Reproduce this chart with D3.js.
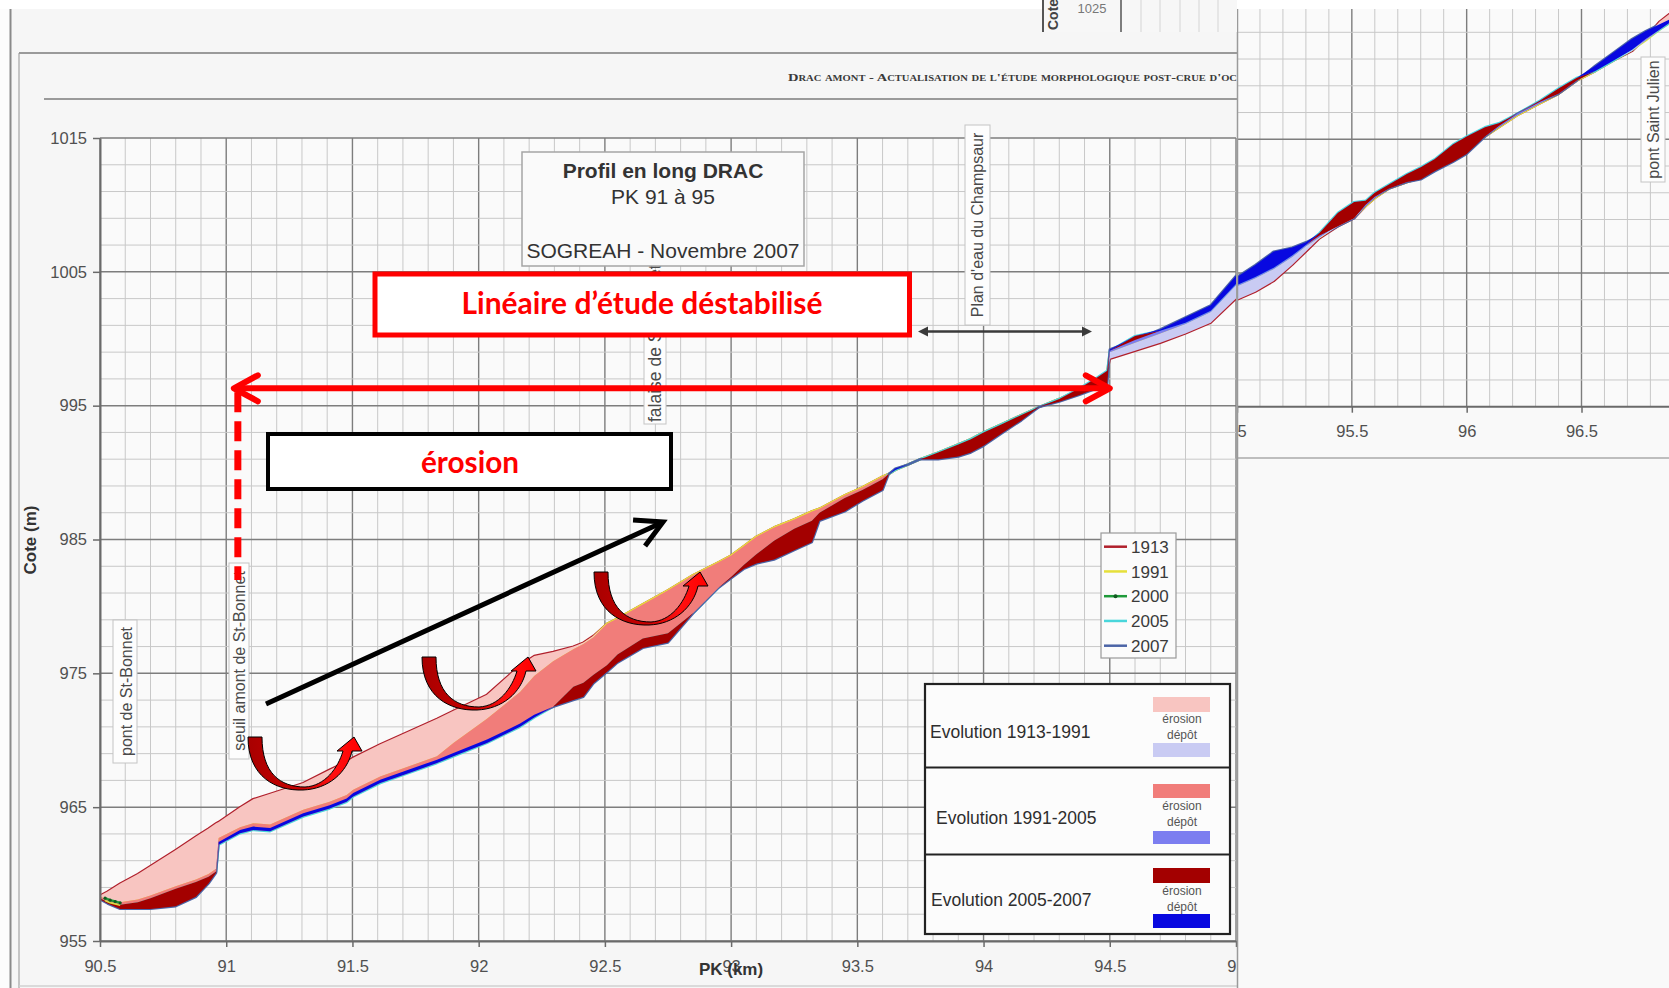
<!DOCTYPE html>
<html><head><meta charset="utf-8">
<script src="https://cdn.jsdelivr.net/npm/d3@7"></script>
<style>body{margin:0;background:#fff;} svg{display:block;}</style>
</head><body>
<svg id="c" width="1669" height="988"></svg>
<script>
// ---------------- DATA ----------------
const pk = [90.50,90.53,90.58,90.65,90.70,90.80,90.88,90.93,90.96,90.97,91.055,91.107,91.174,91.305,91.41,91.477,91.503,91.61,91.716,91.835,91.90,92.033,92.164,92.22,92.295,92.375,92.415,92.455,92.508,92.55,92.65,92.75,92.85,92.95,93.00,93.05,93.10,93.17,93.25,93.32,93.35,93.45,93.52,93.60,93.625,93.65,93.70,93.75,93.82,93.90,93.95,94.00,94.07,94.15,94.22,94.30,94.38,94.45,94.49,94.50,94.60,94.70,94.80,94.90,95.00,95.08,95.16,95.24,95.30,95.36,95.44,95.51,95.56,95.60,95.66,95.74,95.80,95.86,95.94,96.00,96.08,96.14,96.22,96.32,96.40,96.48,96.56,96.64,96.72,96.78,96.84,96.90];
const z1913 = [958.4,958.7,959.3,960.0,960.6,961.8,962.8,963.4,963.8,963.9,965.0,965.6,966.0,966.8,967.8,968.4,968.7,969.7,970.6,971.6,972.2,973.4,975.6,976.3,976.6,977.0,977.3,977.8,978.7,979.1,980.15,981.2,982.35,983.3,983.8,984.5,985.2,985.9,986.5,987.1,987.3,988.3,988.9,989.7,989.9,990.2,990.6,991.0,991.5,992.1,992.5,993.0,993.6,994.3,994.9,995.5,996.2,997.0,997.5,998.5,999.1,999.7,1000.4,1001.2,1003.0,1003.6,1004.4,1005.6,1006.6,1007.6,1008.5,1009.1,1010.0,1010.6,1011.3,1011.8,1012.1,1012.8,1013.6,1014.2,1015.2,1015.9,1016.8,1017.7,1018.4,1019.4,1020.1,1020.9,1021.6,1022.6,1023.8,1024.6];
const z1991 = [958.3,958.1,957.9,958.1,958.4,959.1,959.6,960.0,960.4,962.7,963.5,963.8,963.7,964.8,965.4,965.9,966.3,967.3,968.0,968.8,969.8,971.6,973.6,974.8,975.9,976.8,977.2,977.7,978.7,979.1,980.15,981.2,982.35,983.3,983.8,984.5,985.2,985.9,986.5,987.1,987.3,988.3,988.9,989.7,989.9,990.2,990.6,991.0,991.5,992.1,992.5,993.0,993.6,994.3,994.9,995.5,996.2,997.0,997.5,999.0,999.7,1000.4,1001.1,1002.0,1004.0,1004.6,1005.3,1006.2,1007.0,1007.7,1008.6,1009.2,1010.0,1010.6,1011.3,1011.8,1012.1,1012.8,1013.6,1014.2,1015.2,1015.9,1016.8,1017.7,1018.4,1019.4,1020.1,1020.9,1021.7,1022.4,1023.2,1023.9];
const z2005 = [958.2,957.9,957.7,957.9,958.2,958.9,959.4,959.8,960.2,962.2,963.05,963.3,963.2,964.3,964.9,965.4,965.8,966.8,967.5,968.3,968.8,969.8,971.0,971.7,972.5,974.0,974.3,974.9,975.6,976.4,977.6,978.0,979.5,981.4,982.2,983.1,983.9,984.9,985.8,986.4,987.0,988.1,988.7,989.5,989.9,990.2,990.6,991.0,991.5,992.1,992.5,993.0,993.6,994.3,994.9,995.5,996.3,997.1,997.6,999.1,1000.2,1000.6,1001.2,1002.1,1004.1,1004.7,1005.4,1006.3,1007.1,1008.0,1009.5,1010.3,1010.4,1011.0,1011.6,1012.4,1012.9,1013.5,1014.6,1015.2,1015.9,1016.2,1016.9,1017.9,1018.8,1019.6,1020.1,1020.9,1021.7,1022.5,1023.2,1023.9];
const z2007 = [958.1,957.8,957.4,957.4,957.4,957.6,958.3,959.3,960.1,962.4,963.3,963.55,963.45,964.55,965.15,965.65,966.05,967.05,967.75,968.55,969.05,970.05,971.25,971.9,972.5,973.0,973.25,974.25,975.1,975.8,976.9,977.3,979.5,981.4,982.1,982.8,983.2,983.5,984.2,984.8,986.4,987.1,987.9,988.7,989.9,990.3,990.6,991.0,991.0,991.2,991.5,992.0,992.9,993.9,994.9,995.3,995.8,996.3,996.6,999.2,999.9,1000.7,1001.6,1002.5,1004.7,1005.6,1006.6,1006.9,1007.3,1007.8,1008.5,1009.1,1010.1,1010.7,1011.3,1011.8,1012.0,1012.6,1013.3,1013.9,1015.2,1016.0,1016.9,1017.8,1018.4,1019.4,1020.5,1021.5,1022.5,1023.1,1023.6,1024.1];
const pk2000 = [90.52,90.54,90.56,90.58];
const z2000 = [958.2,958.05,957.95,957.85];

const years = ["1913","1991","2000","2005","2007"];
const yearColors = ["#b0202c","#e6e03a","#1f9a3a","#49d6db","#4b64a6"];
const xTicksMain = [90.5,91,91.5,92,92.5,93,93.5,94,94.5,95];
const xTickLabelsMain = ["90.5","91","91.5","92","92.5","93","93.5","94","94.5","95"];
const yTicks = [955,965,975,985,995,1005,1015];
const yTickLabels = ["955","965","975","985","995","1005","1015"];
const xTicksInset = [95,95.5,96,96.5];
const xTickLabelsInset = ["95","95.5","96","96.5"];
const evolutionLabels = ["Evolution 1913-1991","Evolution 1991-2005","Evolution 2005-2007"];
const erosionColors = ["#f8c5c1","#f17d7a","#a30000"];
const depotColors = ["#c9cbf3","#7c7ef0","#0808e0"];

// ---------------- SETUP ----------------
const W = 1669, H = 988;
const FONT = "'Liberation Sans', Arial, sans-serif";
const svg = d3.select("#c");
const defs = svg.append("defs");

const xs = d3.scaleLinear([90.5, 95], [100, 1236]);
const ys = d3.scaleLinear([955, 1015], [941, 138]);
const xi = d3.scaleLinear([95, 96.5], [1237, 1581.5]);
const yi = d3.scaleLinear([995, 1023], [406.7, 32.3]);

defs.append("clipPath").attr("id","mainClip").append("rect")
  .attr("x",100).attr("y",138).attr("width",1136).attr("height",803);
defs.append("clipPath").attr("id","insetClip").append("rect")
  .attr("x",1237).attr("y",9).attr("width",432).attr("height",398);
defs.append("clipPath").attr("id","insetAll").append("rect")
  .attr("x",1237).attr("y",0).attr("width",432).attr("height",988);
const grad = defs.append("linearGradient").attr("id","ug").attr("x1",0).attr("x2",1).attr("y1",0).attr("y2",0);
grad.append("stop").attr("offset","0%").attr("stop-color","#a80000");
grad.append("stop").attr("offset","45%").attr("stop-color","#c80000");
grad.append("stop").attr("offset","75%").attr("stop-color","#ff1010");
grad.append("stop").attr("offset","100%").attr("stop-color","#ff0000");

// background
svg.append("rect").attr("width",W).attr("height",H).attr("fill","#f6f6f6");
svg.append("rect").attr("width",W).attr("height",9).attr("fill","#ffffff");
svg.append("rect").attr("y",9).attr("width",10).attr("height",H-9).attr("fill","#fcfcfc");
const frame = svg.append("g");
function ln(g,x1,y1,x2,y2,c,w){return g.append("line").attr("x1",x1).attr("y1",y1).attr("x2",x2).attr("y2",y2).attr("stroke",c).attr("stroke-width",w);}
ln(frame,10.5,9,10.5,H,"#8a8a8a",2);
ln(frame,19,53,19,H,"#b5b5b5",1.5);
ln(frame,19,53,1237,53,"#9a9a9a",2);
ln(frame,44,99,1237,99,"#9a9a9a",2);
ln(frame,19,986,1237,986,"#d0d0d0",1.5);

svg.append("text").attr("x",788).attr("y",81)
  .attr("font-family","'Liberation Serif', serif").attr("font-size",11).attr("font-weight","bold")
  .attr("font-variant","small-caps").attr("fill","#3a3a3a")
  .attr("textLength",449).attr("lengthAdjust","spacingAndGlyphs")
  .text("Drac amont - Actualisation de l'étude morphologique post-crue d'oc");

// ---------------- GRID ----------------
function drawGrid(g, xsc, ysc, pkFrom, nV, zFrom, zTo, y0, y1, x0, x1){
  for(let i=0;i<=nV;i++){
    const v = pkFrom + i/10;
    const major = i%5===0;
    ln(g, xsc(v), y0, xsc(v), y1, major?"#7d7d7d":"#c8c8c8", major?1.4:1);
  }
  for(let z=zFrom; z<=zTo; z+=2){
    const major = (z-955)%10===0;
    ln(g, x0, ysc(z), x1, ysc(z), major?"#7d7d7d":"#c8c8c8", major?1.5:1);
  }
}
svg.append("rect").attr("x",100).attr("y",138).attr("width",1136).attr("height",803).attr("fill","#fafafa");
drawGrid(svg.append("g"), xs, ys, 90.5, 45, 955, 1015, 138, 941, 100, 1236);

// ---------------- PROFILE ----------------
const idx = d3.range(pk.length);
const fillSpec = [[z1913,z1991],[z1991,z2005],[z2005,z2007]];
function drawProfile(g, xsc, ysc){
  // year lines first (only their outer edges stay visible), then erosion/deposit fills
  const series = [z1913, z1991, z2005, z2007];
  const sColors = [yearColors[0], yearColors[1], yearColors[3], yearColors[4]];
  series.forEach((s,k)=>{
    g.append("path").attr("fill","none").attr("stroke",sColors[k]).attr("stroke-width",2.4)
      .attr("stroke-linejoin","round")
      .attr("d", d3.line().x(i=>xsc(pk[i])).y(i=>ysc(s[i]))(idx));
  });
  fillSpec.forEach((p,k)=>{
    const [a,b] = p;
    g.append("path").attr("fill",erosionColors[k])
      .attr("d", d3.area().x(i=>xsc(pk[i])).y0(i=>ysc(a[i])).y1(i=>ysc(Math.min(a[i],b[i])))(idx));
    g.append("path").attr("fill",depotColors[k])
      .attr("d", d3.area().x(i=>xsc(pk[i])).y0(i=>ysc(a[i])).y1(i=>ysc(Math.max(a[i],b[i])))(idx));
  });
  const id2 = d3.range(pk2000.length);
  g.append("path").attr("fill","none").attr("stroke",yearColors[2]).attr("stroke-width",2.5)
    .attr("d", d3.line().x(i=>xsc(pk2000[i])).y(i=>ysc(z2000[i]))(id2));
  g.append("path").attr("fill","none").attr("stroke","#d8e040").attr("stroke-width",1.5)
    .attr("d", d3.line().x(i=>xsc(pk2000[i])).y(i=>ysc(z2000[i])+2.5)(id2));
  g.selectAll(null).data(id2).enter().append("circle")
    .attr("cx",i=>xsc(pk2000[i])).attr("cy",i=>ysc(z2000[i])).attr("r",1.6).attr("fill","#105a20");
}
drawProfile(svg.append("g").attr("clip-path","url(#mainClip)"), xs, ys);

// ---------------- AXES ----------------
const gx = svg.append("g").attr("transform",`translate(0,${ys(955)})`)
  .call(d3.axisBottom(xs).tickValues(xTicksMain).tickFormat((d,i)=>xTickLabelsMain[i]).tickSize(6).tickSizeOuter(0).tickPadding(13));
const gy = svg.append("g").attr("transform",`translate(${xs(90.5)},0)`)
  .call(d3.axisLeft(ys).tickValues(yTicks).tickFormat((d,i)=>yTickLabels[i]).tickSize(7).tickSizeOuter(0).tickPadding(6));
[gx,gy].forEach(g=>{
  g.attr("font-family",FONT).attr("font-size",16.5);
  g.select(".domain").attr("stroke","#6a6a6a").attr("stroke-width",2);
  g.selectAll(".tick line").attr("stroke","#6a6a6a").attr("stroke-width",1.5);
  g.selectAll(".tick text").attr("fill","#505050");
});
svg.append("text").attr("x",731).attr("y",975).attr("text-anchor","middle")
  .attr("font-family",FONT).attr("font-size",17).attr("font-weight","bold").attr("fill","#333").text("PK (km)");
svg.append("text").attr("transform","translate(36,540) rotate(-90)").attr("text-anchor","middle")
  .attr("font-family",FONT).attr("font-size",17).attr("font-weight","bold").attr("fill","#333").text("Cote (m)");

// ---------------- VERTICAL LABELS ----------------
function vLabel(text, bx, by, bw, bh, tx, ty, anchor, fs){
  const g = svg.append("g");
  g.append("rect").attr("x",bx).attr("y",by).attr("width",bw).attr("height",bh)
    .attr("fill","#fdfdfd").attr("stroke","#c4c4c4").attr("stroke-width",1);
  g.append("text").attr("transform",`translate(${tx},${ty}) rotate(-90)`).attr("text-anchor",anchor)
    .attr("dy","0.35em").attr("font-family",FONT).attr("font-size",fs||16).attr("fill","#4a4a4a").text(text);
}
vLabel("pont de St-Bonnet", 113,620,24,143, 126,691.5,"middle");
vLabel("seuil amont de St-Bonnet", 229,563,20,196, 239,661,"middle");
vLabel("falaise de St-Bonnet", 644,300,22,124, 655,422,"start",17.5);
vLabel("Plan d'eau du Champsaur", 965,125,25,200, 977.5,225,"middle");

// small black double arrow
ln(svg,926,331.5,1084,331.5,"#3a3a3a",2.5);
svg.append("path").attr("d","M918,331.5 L928,326.5 L928,336.5 Z M1092,331.5 L1082,326.5 L1082,336.5 Z").attr("fill","#3a3a3a");

// ---------------- LEGENDS ----------------
const lg = svg.append("g");
lg.append("rect").attr("x",1101).attr("y",533).attr("width",75).attr("height",125)
  .attr("fill","#fbfbfb").attr("stroke","#9a9a9a").attr("stroke-width",1.2);
years.forEach((y,i)=>{
  const cy = 546.7 + i*24.75;
  ln(lg,1104,cy,1127,cy,yearColors[i],2.5);
  if(y==="2000") lg.append("circle").attr("cx",1115.5).attr("cy",cy).attr("r",2).attr("fill","#105a20");
  lg.append("text").attr("x",1131).attr("y",cy).attr("dy","0.36em").attr("font-family",FONT)
    .attr("font-size",17).attr("fill","#3a3a3a").text(y);
});

const eg = svg.append("g");
eg.append("rect").attr("x",925).attr("y",684).attr("width",305).attr("height",250)
  .attr("fill","#fcfcfc").attr("stroke","#222").attr("stroke-width",2.2);
ln(eg,925,767.5,1230,767.5,"#222",2.2);
ln(eg,925,854.5,1230,854.5,"#222",2.2);
const rowText = [[930,731.7],[936,817.3],[931,900]];
const rowSw = [[697,712,723,739,743,757],[784,798,810,826,831,844],[868,883,895,911,914,928]];
evolutionLabels.forEach((t,i)=>{
  eg.append("text").attr("x",rowText[i][0]).attr("y",rowText[i][1]).attr("dy","0.36em")
    .attr("font-family",FONT).attr("font-size",17.5).attr("fill","#2e2e2e").text(t);
  const s = rowSw[i];
  eg.append("rect").attr("x",1153).attr("y",s[0]).attr("width",57).attr("height",s[1]-s[0]).attr("fill",erosionColors[i]);
  eg.append("rect").attr("x",1153).attr("y",s[4]).attr("width",57).attr("height",s[5]-s[4]).attr("fill",depotColors[i]);
  eg.append("text").attr("x",1182).attr("y",s[2]).attr("text-anchor","middle").attr("font-family",FONT)
    .attr("font-size",12).attr("fill","#555").text("érosion");
  eg.append("text").attr("x",1182).attr("y",s[3]).attr("text-anchor","middle").attr("font-family",FONT)
    .attr("font-size",12).attr("fill","#555").text("dépôt");
});

// ---------------- TITLE BOX ----------------
const tb = svg.append("g");
tb.append("rect").attr("x",522).attr("y",152).attr("width",282).attr("height",114)
  .attr("fill","#fafafa").attr("stroke","#a5a5a5").attr("stroke-width",1.5);
[["Profil en long DRAC",178,"bold"],["PK 91 à 95",204,"normal"],["SOGREAH - Novembre 2007",258,"normal"]].forEach(d=>{
  tb.append("text").attr("x",663).attr("y",d[1]).attr("text-anchor","middle").attr("font-family",FONT)
    .attr("font-size",21).attr("font-weight",d[2]).attr("fill","#333").text(d[0]);
});

// ---------------- ANNOTATIONS ----------------
const an = svg.append("g");
an.append("rect").attr("x",375).attr("y",274).attr("width",534.5).attr("height",61)
  .attr("fill","#ffffff").attr("stroke","#ff0000").attr("stroke-width",5);
an.append("text").attr("x",642).attr("y",313.5).attr("text-anchor","middle")
  .attr("font-family","Lato, 'Open Sans', sans-serif").attr("font-weight","bold").attr("font-size",30)
  .attr("fill","#ff0000").attr("textLength",361).attr("lengthAdjust","spacingAndGlyphs")
  .text("Linéaire d’étude déstabilisé");

// red double arrow along the destabilised reach
const ra0 = xs(91.05) - 5, ra1 = xs(94.5), ray = ys(996.3);
ln(an, ra0+3, ray, ra1-3, ray, "#ff0000", 6).attr("stroke-linecap","round");
an.append("path").attr("d",`M${ra0+24},${ray-13} L${ra0},${ray} L${ra0+24},${ray+13} M${ra1-24},${ray-13} L${ra1},${ray} L${ra1-24},${ray+13}`)
  .attr("fill","none").attr("stroke","#ff0000").attr("stroke-width",6).attr("stroke-linecap","round").attr("stroke-linejoin","round");
ln(an, ra0+4, ray+4, ra0+4, 580, "#ff0000", 7).attr("stroke-dasharray","20,9");

an.append("rect").attr("x",268).attr("y",434).attr("width",403).attr("height",55)
  .attr("fill","#ffffff").attr("stroke","#000").attr("stroke-width",4);
an.append("text").attr("x",470).attr("y",473).attr("text-anchor","middle")
  .attr("font-family","Lato, 'Open Sans', sans-serif").attr("font-weight","bold").attr("font-size",30)
  .attr("fill","#ff0000").attr("textLength",98).attr("lengthAdjust","spacingAndGlyphs").text("érosion");

// black arrow
const bx0=266, by0=704, bx1=663, by1=522;
const ang = Math.atan2(by1-by0, bx1-bx0);
ln(an,bx0,by0,bx1-2,by1+1,"#000",5);
const armL = 30, spread = 0.5;
an.append("path").attr("d",`M${bx1+armL*Math.cos(ang+Math.PI-spread)},${by1+armL*Math.sin(ang+Math.PI-spread)} L${bx1},${by1} L${bx1+armL*Math.cos(ang+Math.PI+spread)},${by1+armL*Math.sin(ang+Math.PI+spread)}`)
  .attr("fill","none").attr("stroke","#000").attr("stroke-width",5).attr("stroke-linejoin","miter");

// curved U-turn arrows
const uPath = "M0,0 C0,40 28,54 55,53 C80,52 99,36 104,14 L114,14 L106,0 L89,14 L95,14 C90,31 77,49 57,50 C32,50 14,36 14,0 Z";
[[248,737],[422,657],[594,572]].forEach(o=>{
  an.append("path").attr("transform",`translate(${o[0]},${o[1]})`).attr("d",uPath)
    .attr("fill","url(#ug)").attr("stroke","#000").attr("stroke-width",1);
});

// ---------------- INSET (PK 95 - 97) ----------------
const ins = svg.append("g").attr("clip-path","url(#insetAll)");
ins.append("rect").attr("x",1237).attr("y",9).attr("width",432).attr("height",H-9).attr("fill","#f9f9f9");
ins.append("rect").attr("x",1237).attr("y",9).attr("width",432).attr("height",398).attr("fill","#fafafa");
const ig = ins.append("g").attr("clip-path","url(#insetClip)");
drawGrid(ig, xi, yi, 95, 18, 995, 1025, 9, 407, 1237, 1669);
drawProfile(ig, xi, yi);
const gxi = ins.append("g").attr("transform",`translate(0,${yi(995)})`)
  .call(d3.axisBottom(xi).tickValues(xTicksInset).tickFormat((d,i)=>xTickLabelsInset[i]).tickSize(6).tickSizeOuter(0).tickPadding(13));
gxi.attr("font-family",FONT).attr("font-size",16.5);
gxi.select(".domain").remove();
ln(ins,1237,yi(995),1669,yi(995),"#6a6a6a",2);
gxi.selectAll(".tick line").attr("stroke","#6a6a6a").attr("stroke-width",1.5);
gxi.selectAll(".tick text").attr("fill","#505050");
ln(ins,1237,458,1669,458,"#aaaaaa",1.5);
ln(svg,1237.5,9,1237.5,H,"#9a9a9a",1.5);
// pont Saint Julien label
svg.append("rect").attr("x",1641).attr("y",57).attr("width",24).attr("height",125)
  .attr("fill","#fdfdfd").attr("stroke","#c4c4c4");
svg.append("text").attr("transform","translate(1653,119.5) rotate(-90)").attr("text-anchor","middle").attr("dy","0.35em")
  .attr("font-family",FONT).attr("font-size",16).attr("fill","#4a4a4a").text("pont Saint Julien");

// ---------------- TOP REMNANTS ----------------
const tr = svg.append("g");
tr.append("rect").attr("x",1043).attr("y",0).attr("width",194).attr("height",32).attr("fill","#f7f7f7");
ln(tr,1043,0,1043,32,"#555",2);
ln(tr,1121,0,1121,32,"#555",1.5);
[1141,1160,1180,1199,1218].forEach(x=>ln(tr,x,0,x,32,"#d5d5d5",1));
tr.append("text").attr("transform","translate(1058,30) rotate(-90)").attr("font-family",FONT)
  .attr("font-size",14).attr("font-weight","bold").attr("fill","#444").text("Cote");
tr.append("text").attr("x",1092).attr("y",13).attr("text-anchor","middle").attr("font-family",FONT)
  .attr("font-size",13).attr("fill","#777").text("1025");
</script>
</body></html>
